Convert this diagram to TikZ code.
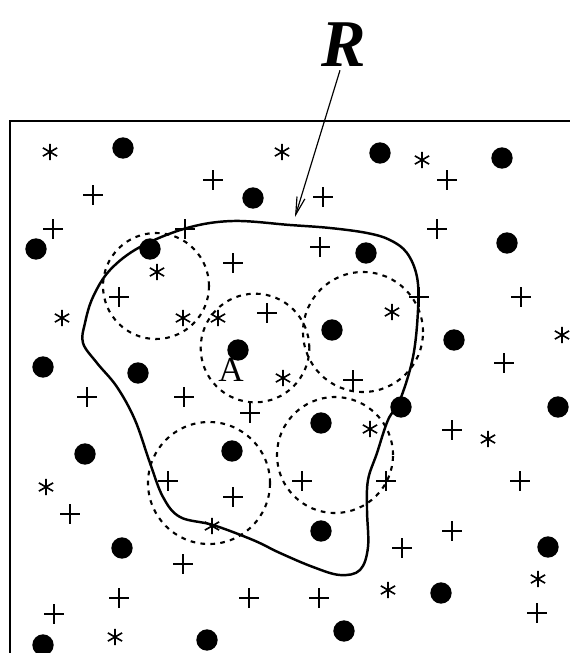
\documentclass[tikz,border=0pt]{standalone}
\usepackage{fontspec}
\setmainfont{Liberation Serif}
\usetikzlibrary{arrows.meta}

\begin{document}
\begin{tikzpicture}[x=0.03cm, y=-0.03cm,
    dotmark/.style={circle, fill=black, inner sep=0pt, minimum size=0.64cm},
    plusmark/.pic={\draw[line width=2pt] (-8.5pt,0) -- (8.5pt,0) (0,-8.5pt) -- (0,8.5pt);},
    starmark/.pic={\draw[line width=1.4pt] (0,-7pt) -- (0,7pt) (-30:7pt) -- (150:7pt) (30:7pt) -- (210:7pt);},
    circ/.style={line width=1.8pt, dash pattern=on 4pt off 4.5pt}]
    \useasboundingbox (0,0) rectangle (570,653);
    \clip (0,0) rectangle (570,653);
    \draw[line width=2pt] (10,121) rectangle (590,680);

    % region R
    \draw[line width=2.1pt] plot[smooth cycle, tension=0.6] coordinates {(290,225) (330,228) (367,233) (390,240) (407,253) (417,277) (418,310) (413,357) (400,400) (388,420) (377,453) (368,480) (367,510) (368,547) (360,570) (340,575) (313,567) (280,553) (253,540) (213,525) (180,517) (163,497) (150,463) (135,420) (117,387) (97,363) (83,343) (85,323) (93,297) (110,270) (140,247) (187,228) (233,221)};

    % dashed neighbourhoods
    \draw[circ] (156,286) circle (1.59cm);
    \draw[circ] (255,348) circle (1.63cm);
    \draw[circ] (363,332) circle (1.8cm);
    \draw[circ] (335,455) circle (1.74cm);
    \draw[circ] (209,483) circle (1.83cm);

    % samples
    \foreach \p in {(123,148),(380,153),(502,158),(253,198),(36,249),(150,249),(366,253),(507,243),(332,330),(454,340),(238,350),(43,367),(138,373),(401,407),(558,407),(321,423),(85,454),(232,451),(321,531),(548,547),(122,548),(441,593),(207,640),(344,631),(43,645)}
        \node[dotmark] at \p {};
    \foreach \p in {(213,180),(93,195),(323,197),(447,180),(53,229),(185,229),(437,229),(233,263),(320,247),(119,297),(419,297),(521,297),(267,313),(353,380),(504,363),(87,397),(184,397),(250,413),(452,430),(168,481),(233,497),(302,481),(386,481),(520,481),(70,514),(452,531),(402,548),(183,564),(119,598),(249,598),(319,598),(54,614),(537,613)}
        \pic at \p {plusmark};
    \foreach \p in {(50,152),(282,152),(422,160),(157,272),(62,318),(183,318),(218,318),(392,312),(562,335),(283,378),(370,429),(488,439),(46,487),(212,526),(538,579),(388,590),(115,637)}
        \pic at \p {starmark};

    \node[font=\fontsize{30}{30}\selectfont] (a) at (231,370) {A};
    \node[font=\fontsize{57}{57}\selectfont, inner sep=1pt] (R) at (344,45) {\textbf{\textit{R}}};
    \coordinate (tip) at (295,217);
    \draw[-{Straight Barb[length=15pt, width=7pt]}, line width=1pt] (R.south) ++(-4,2) -- (tip);
\end{tikzpicture}
\end{document}
